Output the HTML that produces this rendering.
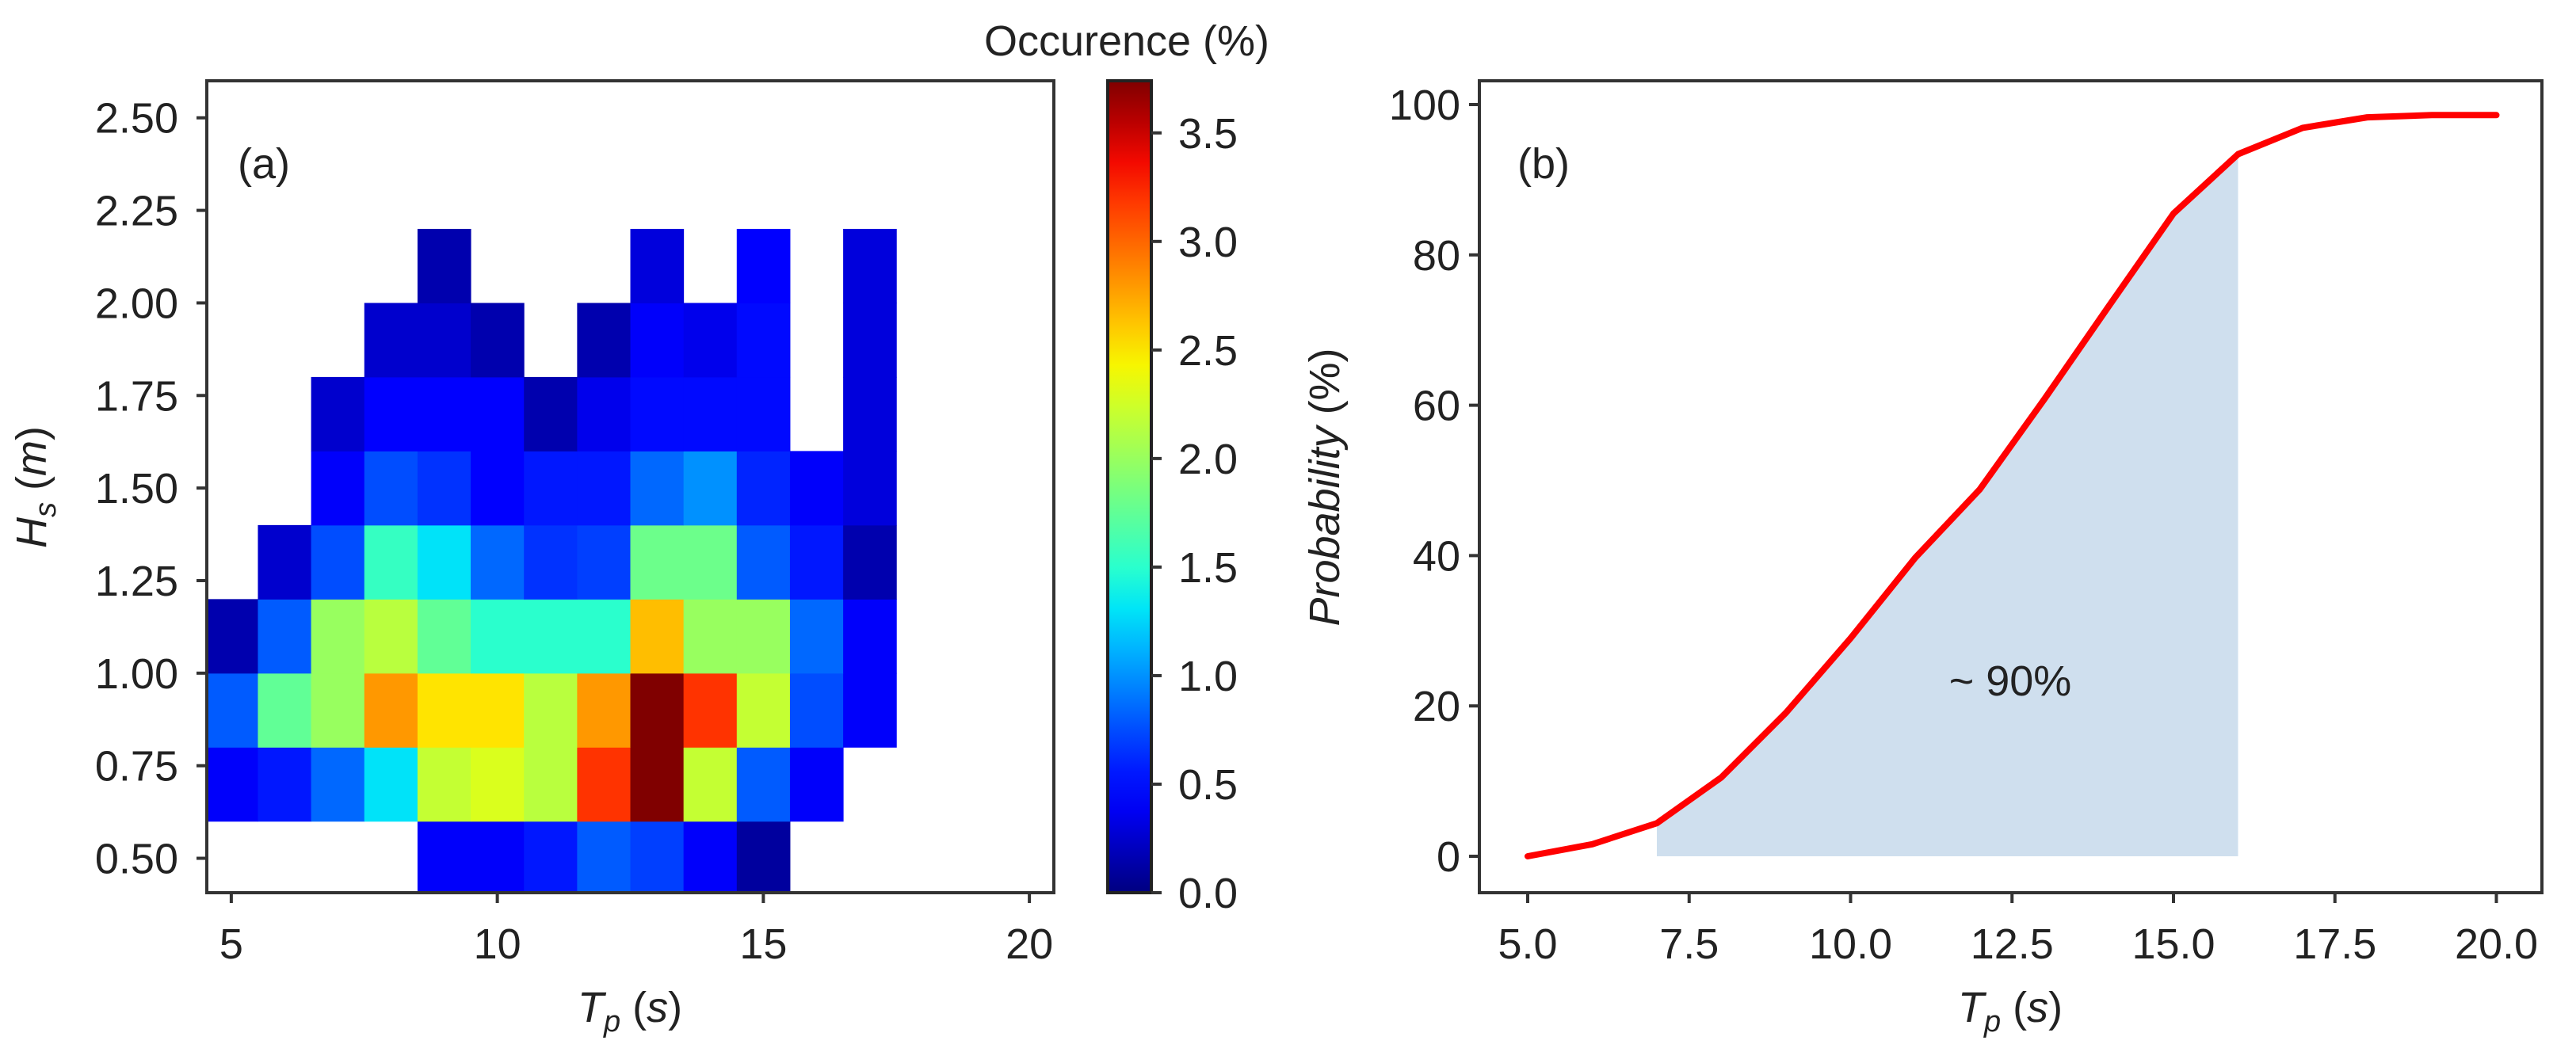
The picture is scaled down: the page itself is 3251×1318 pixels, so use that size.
<!DOCTYPE html>
<html><head><meta charset="utf-8"><style>
html,body{margin:0;padding:0;background:#fff}
svg{display:block}
text{font-family:"Liberation Sans",sans-serif;fill:#222}
</style></head><body>
<svg id="fig" width="3251" height="1318" viewBox="0 0 3251 1318" xmlns="http://www.w3.org/2000/svg">
<g id="pa"></g>
<g id="pb"></g>
</svg>
<script>
// ---- Panel (a) data ----
const tpBins = [5,6,7,8,9,10,11,12,13,14,15,16,17];
const hsBinStarts = [0.4,0.6,0.8,1.0,1.2,1.4,1.6,1.8,2.0];
const row04 = [null,null,null,null,0.4,0.4,0.55,0.8,0.7,0.4,0.1,null,null];
const row06 = [0.4,0.55,0.85,1.3,2.2,2.3,2.15,3.2,3.74,2.2,0.8,0.4,null];
const row08 = [0.8,1.75,2.0,2.8,2.5,2.5,2.15,2.8,3.74,3.2,2.2,0.75,0.4];
const row10 = [0.15,0.8,2.0,2.15,1.75,1.5,1.5,1.5,2.65,2.0,2.0,0.85,0.4];
const row12 = [null,0.25,0.75,1.55,1.3,0.85,0.65,0.7,1.8,1.8,0.8,0.55,0.15];
const row14 = [null,null,0.4,0.75,0.65,0.45,0.55,0.55,0.85,1.0,0.6,0.4,0.3];
const row16 = [null,null,0.25,0.45,0.45,0.45,0.15,0.35,0.5,0.5,0.5,null,0.3];
const row18 = [null,null,null,0.25,0.25,0.15,null,0.15,0.4,0.35,0.5,null,0.3];
const row20 = [null,null,null,null,0.15,null,null,null,0.3,null,0.45,null,0.3];
const heatRows = [row04,row06,row08,row10,row12,row14,row16,row18,row20];
const xTicksA = [5,10,15,20];
const yTicksA = [0.5,0.75,1.0,1.25,1.5,1.75,2.0,2.25,2.5];
const cbTicks = [0.0,0.5,1.0,1.5,2.0,2.5,3.0,3.5];
const vmax = 3.74;
// ---- Panel (b) data ----
const tpCdf = [5,6,7,8,9,10,11,12,13,14,15,16,17,18,19,20];
const probCdf = [0,1.6,4.4,10.5,19.1,29,39.7,48.8,60.8,73.2,85.5,93.4,96.9,98.3,98.6,98.6];
const fillRange = [7,16];
const xTicksB = [5.0,7.5,10.0,12.5,15.0,17.5,20.0];
const yTicksB = [0,20,40,60,80,100];

const NS="http://www.w3.org/2000/svg";
function mk(parent,tag,attrs,txt){const e=document.createElementNS(NS,tag);for(const k in attrs)e.setAttribute(k,attrs[k]);if(txt!==undefined)e.textContent=txt;parent.appendChild(e);return e;}
function interp(pts,t){for(let i=1;i<pts.length;i++){if(t<=pts[i][0]){const a=pts[i-1],b=pts[i];return a[1]+(b[1]-a[1])*(t-a[0])/(b[0]-a[0]);}}return pts[pts.length-1][1];}
function jet(v){const t=Math.max(0,Math.min(1,v/vmax));
 const r=interp([[0,0],[0.35,0],[0.66,1],[0.89,1],[1,0.5]],t);
 const g=interp([[0,0],[0.125,0],[0.375,1],[0.64,1],[0.91,0],[1,0]],t);
 const b=interp([[0,0.5],[0.11,1],[0.34,1],[0.65,0],[1,0]],t);
 return `rgb(${Math.round(r*255)},${Math.round(g*255)},${Math.round(b*255)})`;}

// Panel (a)
const pa=document.getElementById('pa');
const A={l:261,r:1330,t:102,b:1127,x0:4.54,x1:20.46,y0:0.407,y1:2.60};
const xa=v=>A.l+(v-A.x0)/(A.x1-A.x0)*(A.r-A.l);
const ya=v=>A.b-(v-A.y0)/(A.y1-A.y0)*(A.b-A.t);
const cells=mk(pa,'g',{});


heatRows.forEach((row,ri)=>{row.forEach((v,ci)=>{ if(v===null)return;
 const lo=Math.max(hsBinStarts[ri],A.y0), hi=hsBinStarts[ri]+0.2;
 const x1=xa(tpBins[ci]-0.5), x2=xa(tpBins[ci]+0.5);
 const rc=mk(cells,'rect',{x:Math.max(x1,A.l),y:ya(hi),width:x2-Math.max(x1,A.l)+0.5,height:ya(lo)-ya(hi)+0.5,fill:jet(v)});
 
 
});});
const fa=mk(pa,'rect',{x:A.l,y:A.t,width:A.r-A.l,height:A.b-A.t,fill:'none',stroke:'#333','stroke-width':4});


xTicksA.forEach(v=>{const x=xa(v);mk(pa,'line',{x1:x,y1:A.b,x2:x,y2:A.b+13,stroke:'#333','stroke-width':4});
 const t=mk(pa,'text',{x:x,y:1210,'font-size':54,'text-anchor':'middle'},String(v));
 
 });
yTicksA.forEach(v=>{const y=ya(v);mk(pa,'line',{x1:A.l-13,y1:y,x2:A.l,y2:y,stroke:'#333','stroke-width':4});
 const t=mk(pa,'text',{x:225,y:y+19,'font-size':54,'text-anchor':'end'},v.toFixed(2));
 
 });
// colorbar
const C={l:1398,r:1453,t:102,b:1127};
const defs=mk(document.getElementById('fig'),'defs',{});
const grad=mk(defs,'linearGradient',{id:'jetg',x1:0,y1:1,x2:0,y2:0});
for(let i=0;i<=20;i++){mk(grad,'stop',{offset:(i/20),'stop-color':jet(vmax*i/20)});}
const cb=mk(pa,'rect',{x:C.l,y:C.t,width:C.r-C.l,height:C.b-C.t,fill:'url(#jetg)',stroke:'#222','stroke-width':4});


const yc=v=>C.b-v/vmax*(C.b-C.t);
cbTicks.forEach(v=>{const y=yc(v);mk(pa,'line',{x1:C.r,y1:y,x2:C.r+13,y2:y,stroke:'#333','stroke-width':4});
 const t=mk(pa,'text',{x:1487,y:y+19,'font-size':54},v.toFixed(1));
 
 });
</script>
<script>
// static labels (panel a)
(function(){
const pa=document.getElementById('pa');
pa.insertAdjacentHTML('beforeend',
 '<text x="1422" y="70" font-size="54" text-anchor="middle">Occurence (%)</text>'+
 '<text x="300" y="225" font-size="54">(a)</text>'+
 '<text x="795" y="1290" font-size="54" text-anchor="middle"><tspan font-style="italic">T</tspan><tspan font-style="italic" font-size="38" dy="12">p</tspan><tspan dy="-12"> (</tspan><tspan font-style="italic">s</tspan>)</text>'+
 '<text transform="translate(58,615) rotate(-90)" font-size="54" text-anchor="middle"><tspan font-style="italic">H</tspan><tspan font-style="italic" font-size="38" dy="12">s</tspan><tspan dy="-12"> (</tspan><tspan font-style="italic">m</tspan>)</text>');
})();
// Panel (b)
const pb=document.getElementById('pb');
const B={l:1867,r:3208,t:102,b:1127,x0:4.27,x1:20.73,y0:-4.8,y1:103.2};
const xb=v=>1928+(v-5)*81.5;
const yb=v=>1081-v*9.49;
const fx=[],fy=[];
tpCdf.forEach((t,i)=>{if(t>=fillRange[0]&&t<=fillRange[1]){fx.push(t);fy.push(probCdf[i]);}});
let d=`M${xb(fx[0])},${yb(0)}`;
fx.forEach((t,i)=>{d+=` L${xb(t)},${yb(fy[i])}`;});
d+=` L${xb(fx[fx.length-1])},${yb(0)} Z`;
const fillP=mk(pb,'path',{d:d,fill:'#cfdfee'});


const line=mk(pb,'polyline',{points:tpCdf.map((t,i)=>xb(t)+','+yb(probCdf[i])).join(' '),fill:'none',stroke:'#ff0000','stroke-width':8,'stroke-linejoin':'round','stroke-linecap':'round'});


const fb=mk(pb,'rect',{x:B.l,y:B.t,width:B.r-B.l,height:B.b-B.t,fill:'none',stroke:'#333','stroke-width':4});


xTicksB.forEach(v=>{const x=xb(v);mk(pb,'line',{x1:x,y1:B.b,x2:x,y2:B.b+13,stroke:'#333','stroke-width':4});
 const t=mk(pb,'text',{x:x,y:1210,'font-size':54,'text-anchor':'middle'},v.toFixed(1));
 
 });
yTicksB.forEach(v=>{const y=yb(v);mk(pb,'line',{x1:B.l-13,y1:y,x2:B.l,y2:y,stroke:'#333','stroke-width':4});
 const t=mk(pb,'text',{x:1843,y:y+19,'font-size':54,'text-anchor':'end'},String(v));
 
 });
pb.insertAdjacentHTML('beforeend',
 '<text x="1915" y="225" font-size="54">(b)</text>'+
 '<text x="2537" y="878" font-size="54" text-anchor="middle">~ 90%</text>'+
 '<text x="2537" y="1290" font-size="54" text-anchor="middle"><tspan font-style="italic">T</tspan><tspan font-style="italic" font-size="38" dy="12">p</tspan><tspan dy="-12"> (</tspan><tspan font-style="italic">s</tspan>)</text>'+
 '<text transform="translate(1690,615) rotate(-90)" font-size="54" text-anchor="middle"><tspan font-style="italic">Probability</tspan> (%)</text>');
</script>
</body></html>
